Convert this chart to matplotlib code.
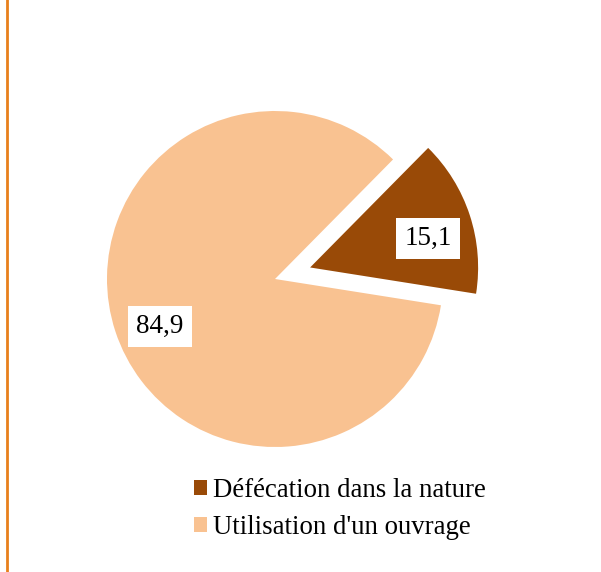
import matplotlib
matplotlib.use("Agg")
import matplotlib.pyplot as plt
from matplotlib.lines import Line2D

categories = ["Défécation dans la nature", "Utilisation d'un ouvrage"]
values = [15.1, 84.9]
colors = ["#994a07", "#f9c291"]
explode = [0.22, 0.0]

plt.rcParams["font.family"] = ["Liberation Serif", "DejaVu Serif"]

W, H, DPI = 601, 572, 100
fig = plt.figure(figsize=(W / DPI, H / DPI), dpi=DPI)
ax = fig.add_axes([0, 0, 1, 1])

wedges, texts, autotexts = ax.pie(
    values,
    colors=colors,
    explode=explode,
    startangle=-9.0,
    counterclock=True,
    autopct=lambda p: f"{p:.1f}".replace(".", ","),
    pctdistance=0.73,
    textprops=dict(fontsize=19.5, color="black"),
    wedgeprops=dict(linewidth=0),
)
for t in autotexts:
    x, y = t.get_position()
    t.set_position((x + 0.01, y - 0.055))
    t.set_bbox(dict(facecolor="white", edgecolor="none", pad=6))

# place the pie: centre at (275, 279) px, radius 168 px
cx, cy, r = 275, 279, 168
ax.set_xlim(-cx / r, (W - cx) / r)
ax.set_ylim(-(H - cy) / r, cy / r)
ax.set_aspect("auto")
ax.axis("off")

leg = fig.legend(
    wedges, categories,
    loc="upper left", bbox_to_anchor=(194 / W, 1 - 478 / H),
    frameon=False, fontsize=19.3,
    handlelength=0.5, handleheight=0.5, handletextpad=0.2,
    labelspacing=0.45, borderpad=0, borderaxespad=0,
)

# orange rule down the left edge
fig.add_artist(Line2D([6.5 / W, 6.5 / W], [0, 1], transform=fig.transFigure,
                      color="#e8801c", linewidth=2.0))

fig.savefig("out.png", dpi=DPI)
